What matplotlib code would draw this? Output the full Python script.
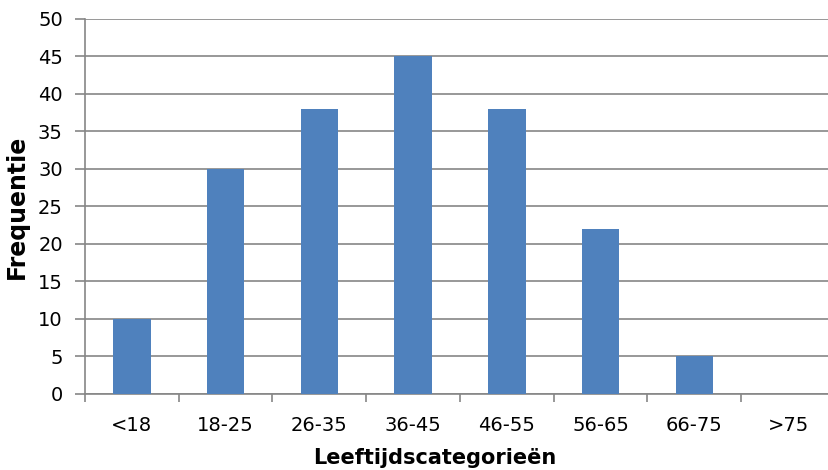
import matplotlib
matplotlib.use("Agg")
import matplotlib.pyplot as plt
import numpy as np

categories = ["<18", "18-25", "26-35", "36-45", "46-55", "56-65", "66-75", ">75"]
frequencies = [10, 30, 38, 45, 38, 22, 5, 0]

plt.rcParams["font.family"] = ["DejaVu Sans"]

fig = plt.figure(figsize=(8.29, 4.70), dpi=100)
W, H = 829, 470
left, right, top, bottom = 85, 835, 19, 393.5
ax = fig.add_axes([left / W, 1 - bottom / H, (right - left) / W, (bottom - top) / H])

grey = "#868686"
x = np.arange(len(categories))
ax.bar(x, frequencies, width=0.4, color="#4F81BD", zorder=3)

ax.set_xlim(-0.5, len(categories) - 0.5)
ax.set_ylim(0, 50)
ax.set_yticks(np.arange(0, 51, 5))
ax.yaxis.grid(True, color=grey, linewidth=1.2, zorder=0)

ax.set_xticks(x)
ax.set_xticklabels(categories, fontsize=14)
ax.set_xticks(np.arange(-0.5, len(categories), 1), minor=True)
ax.tick_params(axis="x", which="major", length=0, pad=16)
ax.tick_params(axis="x", which="minor", length=6, color=grey, width=1.2)
ax.tick_params(axis="y", length=7, color=grey, width=1.2, labelsize=14, pad=9)

for side in ["top", "right"]:
    ax.spines[side].set_visible(False)
for side in ["left", "bottom"]:
    ax.spines[side].set_color(grey)
    ax.spines[side].set_linewidth(1.2)

fig.text(17 / W, 1 - 207 / H, "Frequentie", rotation=90, ha="center", va="center",
         fontsize=17, fontweight="bold")
fig.text(435 / W, 1 - 458 / H, "Leeftijdscategorieën", ha="center", va="center",
         fontsize=15, fontweight="bold")

fig.savefig("out.png", dpi=100)
